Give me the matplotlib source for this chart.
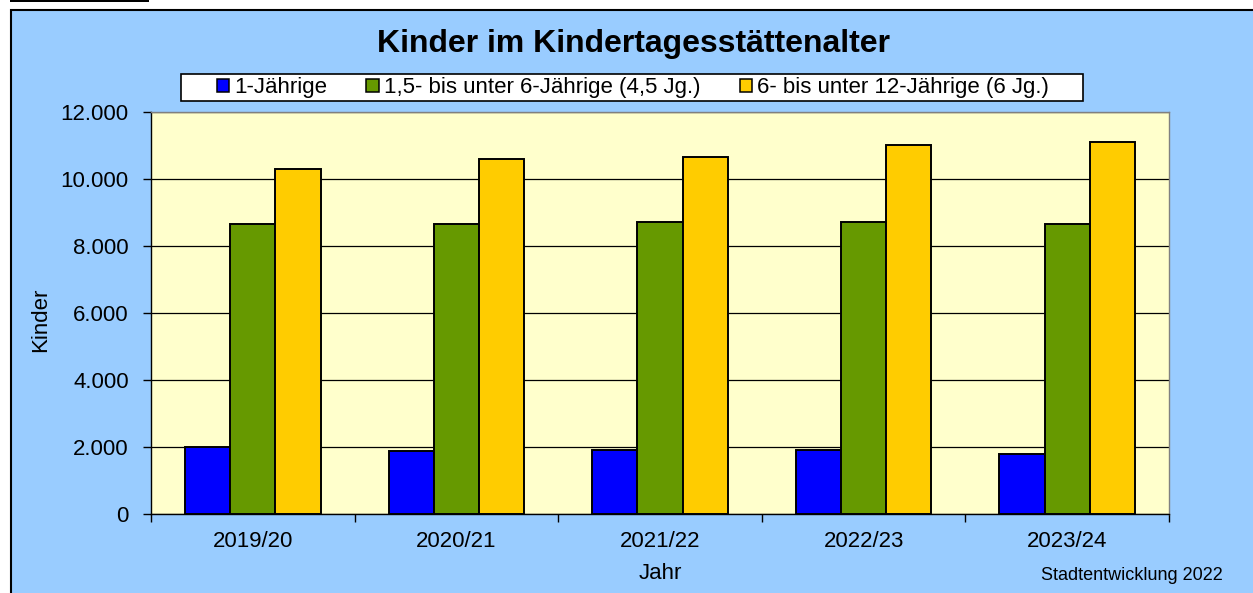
import matplotlib
matplotlib.use('Agg')
import matplotlib.pyplot as plt
from matplotlib.patches import Rectangle
from matplotlib.ticker import FuncFormatter, FixedLocator
import numpy as np

plt.rcParams['font.family'] = ['Liberation Sans', 'DejaVu Sans']

# data
jahre = ['2019/20', '2020/21', '2021/22', '2022/23', '2023/24']
einjaehrige = [2005, 1890, 1900, 1920, 1780]
kita = [8650, 8655, 8710, 8710, 8650]
hort = [10300, 10590, 10650, 11020, 11095]

serien = ['1-Jährige', '1,5- bis unter 6-Jährige (4,5 Jg.)', '6- bis unter 12-Jährige (6 Jg.)']
farben = ['#0000FF', '#669900', '#FFCC00']

W, H = 1253, 593
fig = plt.figure(figsize=(W / 100, H / 100), dpi=100, facecolor='white')

# blue chart area with black border + small black bar top-left
fig.add_artist(Rectangle((11 / W, 0 - 5 / H), (W + 10) / W, 1 - 10 / H + 5 / H,
                         transform=fig.transFigure, facecolor='#99CCFF',
                         edgecolor='black', linewidth=1.5, zorder=0))
fig.add_artist(Rectangle((10 / W, 1 - 2 / H), 139 / W, 2 / H,
                         transform=fig.transFigure, facecolor='black',
                         edgecolor='none', zorder=0))

ax = fig.add_axes([151 / W, 1 - 514 / H, 1018 / W, 402 / H])
ax.set_facecolor('#FFFFCC')

x = np.arange(len(jahre))
bw = 0.222
for k, (werte, farbe) in enumerate(zip([einjaehrige, kita, hort], farben)):
    ax.bar(x + (k - 1) * bw, werte, width=bw, color=farbe, edgecolor='black',
           linewidth=1.4, zorder=3)

ax.set_xlim(-0.5, len(jahre) - 0.5)
ax.set_ylim(0, 12000)
ax.set_yticks(np.arange(0, 12001, 2000))
ax.yaxis.set_major_formatter(FuncFormatter(lambda v, p: f'{int(v):,}'.replace(',', '.')))
ax.grid(axis='y', color='black', linewidth=0.9, zorder=1)
ax.set_axisbelow(True)

ax.set_xticks(x)
ax.set_xticklabels(jahre)
ax.xaxis.set_minor_locator(FixedLocator(np.arange(-0.5, len(jahre), 1.0)))
ax.tick_params(axis='x', which='major', length=0, pad=12, labelsize=16)
ax.tick_params(axis='x', which='minor', length=6, width=1, direction='out')
ax.tick_params(axis='y', length=6, width=1, direction='out', pad=10, labelsize=16)

for s in ['left', 'bottom']:
    ax.spines[s].set_color('black')
    ax.spines[s].set_linewidth(1)
for s in ['top', 'right']:
    ax.spines[s].set_color('#808080')
    ax.spines[s].set_linewidth(1)

ax.set_xlabel('Jahr', fontsize=16, labelpad=8)
ax.set_ylabel('Kinder', fontsize=16, va='center')
ax.yaxis.set_label_coords((41 - 151) / 1018, (514 - 320) / 402)

fig.text(633 / W, 1 - 44 / H, 'Kinder im Kindertagesstättenalter', ha='center',
         va='center', fontsize=23, fontweight='bold')

# legend box: white rectangle with black frame, legend itself without frame
fig.add_artist(Rectangle((181 / W, 1 - 101 / H), 902 / W, 27 / H,
                         transform=fig.transFigure, facecolor='white',
                         edgecolor='black', linewidth=1.2, zorder=1))
handles = [Rectangle((0, 0), 1, 1, facecolor=f, edgecolor='black', linewidth=1.1) for f in farben]
leg = fig.legend(handles, serien, loc='center', bbox_to_anchor=(633 / W, 1 - 87.7 / H),
                 ncol=3, fontsize=16, frameon=False,
                 handlelength=0.55, handleheight=0.55, handletextpad=0.25,
                 columnspacing=1.75, borderpad=0.05, borderaxespad=0)
leg.set_zorder(2)

fig.text(1223 / W, 1 - 580 / H, 'Stadtentwicklung 2022', ha='right', va='baseline',
         fontsize=13)

fig.savefig('out.png', dpi=100, facecolor=fig.get_facecolor())
